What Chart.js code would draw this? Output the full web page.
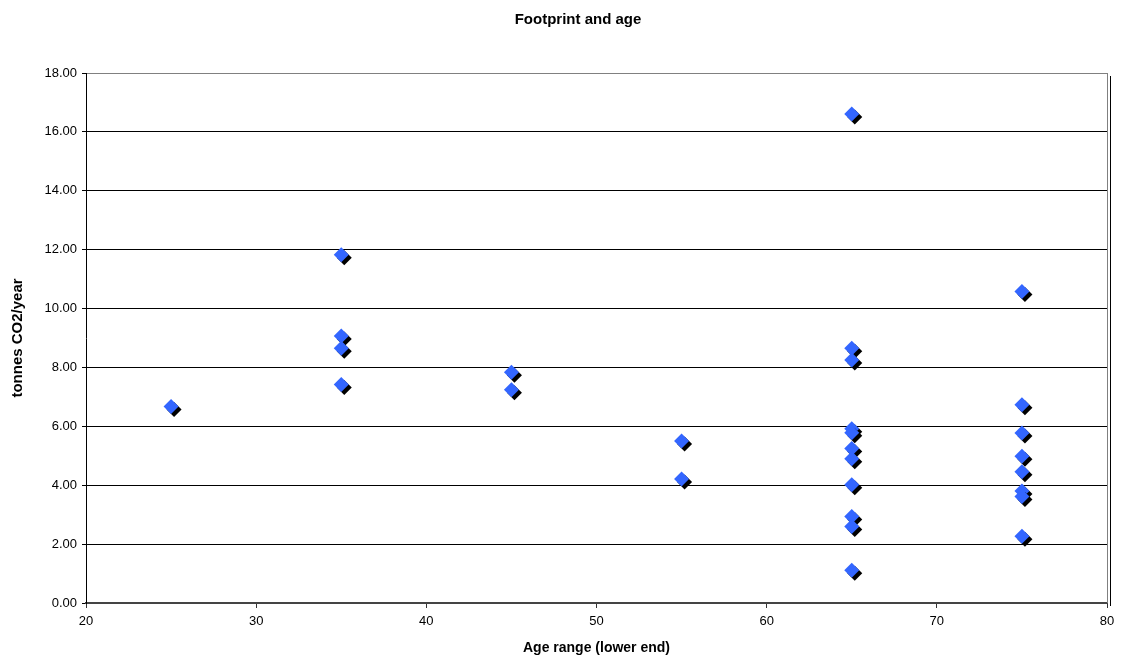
<!DOCTYPE html>
<html>
<head>
<meta charset="utf-8">
<title>Footprint and age</title>
<script src="https://cdn.jsdelivr.net/npm/chart.js@4"></script>
<style>
  html, body { margin: 0; padding: 0; background: #fff; }
  #wrap { width: 1123px; height: 664px; }
</style>
</head>
<body>
<div id="wrap"><canvas id="footprintChart" width="1123" height="664"></canvas></div>
<script>
  // age group (lower end) of each respondent and their footprint
  const ages = [
    25,
    35, 35, 35, 35,
    45, 45,
    55, 55,
    65, 65, 65, 65, 65, 65, 65, 65, 65, 65, 65,
    75, 75, 75, 75, 75, 75, 75, 75,
  ];
  const footprints = [
    6.67,
    11.83, 9.07, 8.65, 7.42,
    7.84, 7.24,
    5.50, 4.21,
    16.61, 8.65, 8.25, 5.92, 5.78, 5.25, 4.90, 4.02, 2.94, 2.60, 1.11,
    10.58, 6.73, 5.77, 4.98, 4.46, 3.80, 3.62, 2.27,
  ];

  const chartTitle = 'Footprint and age';
  const xTitle = 'Age range (lower end)';
  const yTitle = 'tonnes CO2/year';

  const points = ages.map((age, i) => ({ x: age, y: footprints[i] }));

  const fontFamily = '"Liberation Sans", Arial, sans-serif';

  // hard black drop shadow under the markers
  const markerShadow = {
    id: 'markerShadow',
    beforeDatasetsDraw(chart) {
      const ctx = chart.ctx;
      ctx.save();
      ctx.shadowColor = '#000';
      ctx.shadowOffsetX = 3;
      ctx.shadowOffsetY = 3;
      ctx.shadowBlur = 0;
    },
    afterDatasetsDraw(chart) {
      chart.ctx.restore();
    },
  };

  // right edge of the plot frame and the chart title
  const frame = {
    id: 'frame',
    beforeDatasetsDraw(chart) {
      const { ctx, chartArea } = chart;
      ctx.save();
      ctx.strokeStyle = '#808080';
      ctx.lineWidth = 1;
      ctx.beginPath();
      ctx.moveTo(chartArea.right + 0.5, chartArea.top);
      ctx.lineTo(chartArea.right + 0.5, chartArea.bottom);
      ctx.stroke();
      ctx.restore();
    },
    afterDraw(chart) {
      const ctx = chart.ctx;
      ctx.save();
      ctx.fillStyle = '#000';
      ctx.font = 'bold 15px ' + fontFamily;
      ctx.textAlign = 'center';
      ctx.textBaseline = 'middle';
      ctx.fillText(chartTitle, 578, 20);
      ctx.restore();
    },
  };

  const ctx = document.getElementById('footprintChart').getContext('2d');

  const footprintChart = new Chart(ctx, {
    type: 'scatter',
    data: {
      datasets: [{
        label: 'Footprint',
        data: points,
        pointStyle: 'rectRot',
        pointRadius: 7.5,
        pointHoverRadius: 7.5,
        pointBackgroundColor: '#3366FF',
        pointBorderWidth: 0,
      }],
    },
    options: {
      responsive: false,
      animation: false,
      events: [],
      layout: {
        padding: { left: 0, right: 16, top: 73, bottom: 0 },
      },
      plugins: {
        legend: { display: false },
        title: { display: false },
        tooltip: { enabled: false },
      },
      scales: {
        x: {
          type: 'linear',
          min: 20,
          max: 80,
          afterFit(scale) { scale.height = 61; },
          ticks: {
            stepSize: 10,
            color: '#000',
            padding: 6,
            font: { family: fontFamily, size: 13 },
          },
          grid: {
            drawOnChartArea: false,
            drawTicks: true,
            tickLength: 5,
            tickColor: '#333',
          },
          border: { color: '#444', width: 2 },
          title: {
            display: true,
            text: xTitle,
            color: '#000',
            font: { family: fontFamily, size: 14, weight: 'bold' },
            padding: { top: 0, bottom: 7 },
          },
        },
        y: {
          type: 'linear',
          min: 0,
          max: 18,
          afterFit(scale) { scale.width = 86; },
          ticks: {
            stepSize: 2,
            color: '#000',
            padding: 5,
            font: { family: fontFamily, size: 13 },
            callback: (v) => v.toFixed(2),
          },
          grid: {
            color: (c) => {
              if (c.tick.value === 0) return 'rgba(0,0,0,0)';
              if (c.tick.value === 18) return '#808080';
              return '#000';
            },
            tickColor: '#000',
            tickLength: 4,
            lineWidth: 1,
          },
          border: { color: '#000', width: 1 },
          title: {
            display: true,
            text: yTitle,
            color: '#000',
            font: { family: fontFamily, size: 15, weight: 'bold' },
            padding: { top: 9, bottom: 0 },
          },
        },
      },
    },
    plugins: [markerShadow, frame],
  });
</script>
</body>
</html>
